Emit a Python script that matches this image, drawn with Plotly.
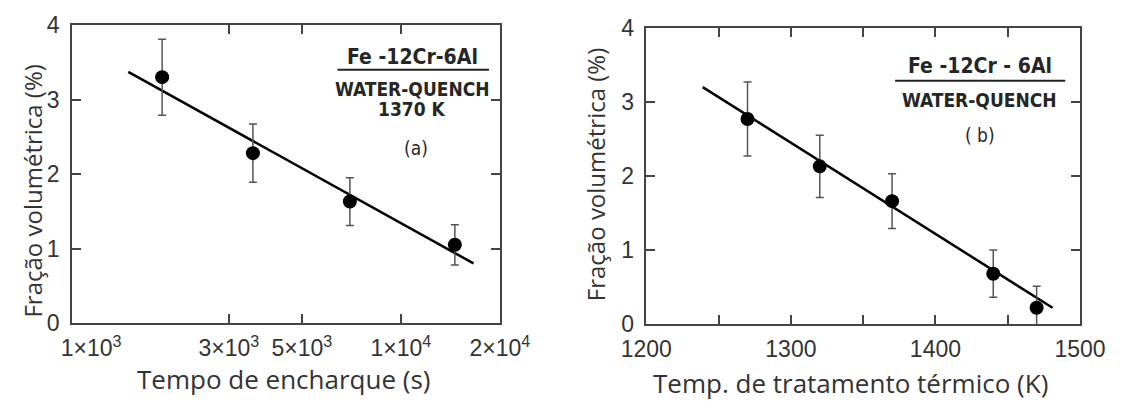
import plotly.graph_objects as go

# ---------------- data ----------------
# (a) volume fraction vs soaking time (log scale)
time_s = [1880, 3550, 7000, 14600]
frac_a = [3.30, 2.28, 1.63, 1.05]
err_a = [0.51, 0.39, 0.32, 0.27]
fit_a_x = [1483, 16640]
fit_a_y = [3.37, 0.80]
xt_a_vals = [1000, 3000, 5000, 10000, 20000]
xt_a_text = ["&nbsp;&nbsp;&nbsp;&nbsp;&nbsp;&nbsp;1×10<sup>3</sup>", "3×10<sup>3</sup>", "5×10<sup>3</sup>",
             "1×10<sup>4</sup>", "2×10<sup>4</sup>"]

# (b) volume fraction vs heat-treatment temperature
temp_k = [1270, 1320, 1370, 1440, 1470]
frac_b = [2.77, 2.13, 1.66, 0.68, 0.22]
err_b = [0.50, 0.42, 0.37, 0.32, 0.29]
fit_b_x = [1239, 1481]
fit_b_y = [3.20, 0.22]
xt_b_vals = [1200, 1250, 1300, 1350, 1400, 1450, 1500]
xt_b_text = ["1200", "", "1300", "", "1400", "", "1500"]

y_vals = [0, 1, 2, 3, 4]

# ---------------- layout helpers ----------------
W, H = 1122, 401
ML, MR, MT, MB = 72, 25, 23, 77
PW = W - ML - MR
PH = H - MT - MB


def px(x):
    return (x - ML) / PW


def py(y):
    return (H - MB - y) / PH


TICKFONT = dict(family="Liberation Sans, Arial, sans-serif", size=23, color="#333333")
LABFONT = dict(family="DejaVu Sans Condensed, DejaVu Sans, sans-serif", size=19, color="#262626",
               weight="bold")
TITLEFONT_X = dict(family="Open Sans, sans-serif", size=26, color="#333333")
TITLEFONT_Y = dict(family="Open Sans, sans-serif", size=24, color="#333333")
FRAME = "#444444"

fig = go.Figure()

# panel (a)
fig.add_trace(go.Scatter(x=fit_a_x, y=fit_a_y, mode="lines", line=dict(color="black", width=2.5),
                         xaxis="x", yaxis="y", showlegend=False, hoverinfo="skip"))
fig.add_trace(go.Scatter(x=time_s, y=frac_a, mode="markers",
                         marker=dict(color="black", size=14),
                         error_y=dict(type="data", array=err_a, color="#555555", thickness=1.5, width=4),
                         xaxis="x", yaxis="y", showlegend=False))
# panel (b)
fig.add_trace(go.Scatter(x=fit_b_x, y=fit_b_y, mode="lines", line=dict(color="black", width=2.5),
                         xaxis="x2", yaxis="y2", showlegend=False, hoverinfo="skip"))
fig.add_trace(go.Scatter(x=temp_k, y=frac_b, mode="markers",
                         marker=dict(color="black", size=14),
                         error_y=dict(type="data", array=err_b, color="#555555", thickness=1.5, width=4),
                         xaxis="x2", yaxis="y2", showlegend=False))

common_axis = dict(showline=True, linecolor=FRAME, linewidth=1.5, mirror="ticks", ticks="inside",
                   ticklen=9, tickwidth=1.5, tickcolor=FRAME, showgrid=False, zeroline=False,
                   tickfont=TICKFONT)

fig.update_layout(
    width=W, height=H,
    margin=dict(l=ML, r=MR, t=MT, b=MB, pad=0),
    paper_bgcolor="white", plot_bgcolor="white",
    xaxis=dict(common_axis, type="log", range=[3, 4.30103], domain=[px(72), px(507)],
               tickvals=xt_a_vals, ticktext=xt_a_text, anchor="y", ticklabelstandoff=4),
    yaxis=dict(common_axis, range=[0, 4], domain=[py(323), py(23)], tickvals=y_vals,
               anchor="x", ticklabelstandoff=6),
    xaxis2=dict(common_axis, range=[1200, 1500], domain=[px(656), px(1097)],
                tickvals=xt_b_vals, ticktext=xt_b_text, anchor="y2", ticklabelstandoff=4),
    yaxis2=dict(common_axis, range=[0, 4], domain=[py(324), py(26)], tickvals=y_vals,
                anchor="x2", ticklabelstandoff=6),
)

ann = []
# axis titles
ann.append(dict(text="Fração volumétrica (%)", x=px(32), y=py(190), textangle=-90, font=TITLEFONT_Y))
ann.append(dict(text="Tempo de encharque (s)", x=px(288), y=py(379), font=TITLEFONT_X))
ann.append(dict(text="Fração volumétrica (%)", x=px(605), y=py(174), textangle=-90, font=TITLEFONT_Y))
ann.append(dict(text="Temp. de tratamento térmico (K)", x=px(864), y=py(383), font=TITLEFONT_X))
# in-plot labels (a)
ann.append(dict(text="Fe -12Cr-6Al", x=px(418), y=py(55), font=dict(LABFONT, size=21)))
ann.append(dict(text="WATER-QUENCH", x=px(418), y=py(87), font=LABFONT))
ann.append(dict(text="1370 K", x=px(418), y=py(108), font=LABFONT))
ann.append(dict(text="(a)", x=px(422), y=py(147), font=dict(LABFONT, weight="normal")))
# in-plot labels (b)
ann.append(dict(text="Fe -12Cr - 6Al", x=px(995), y=py(64), font=dict(LABFONT, size=21)))
ann.append(dict(text="WATER-QUENCH", x=px(995), y=py(98), font=LABFONT))
ann.append(dict(text="( b)", x=px(995), y=py(134), font=dict(LABFONT, weight="normal")))

for a in ann:
    a.update(xref="paper", yref="paper", showarrow=False, xanchor="center", yanchor="middle")
fig.update_layout(annotations=ann)

fig.add_shape(type="line", xref="paper", yref="paper", x0=px(342), x1=px(496), y0=py(68), y1=py(68),
              line=dict(color="#222222", width=2))
fig.add_shape(type="line", xref="paper", yref="paper", x0=px(909), x1=px(1082), y0=py(79), y1=py(79),
              line=dict(color="#222222", width=2))

fig.write_html("out.html")
